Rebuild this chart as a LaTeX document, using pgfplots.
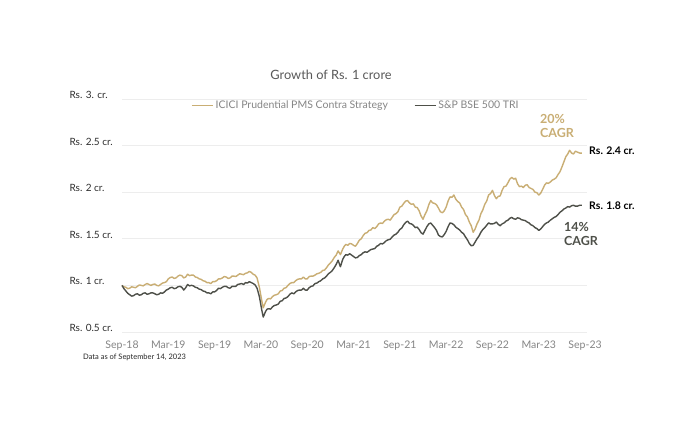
\documentclass[border=0pt]{standalone}
\usepackage{fontspec}
\setmainfont{Lato}
\usepackage{pgfplots}
\pgfplotsset{compat=1.18}
\definecolor{goldc}{HTML}{C9AE74}
\definecolor{darkc}{HTML}{4E5049}
\definecolor{tickc}{HTML}{858585}
\definecolor{labc}{HTML}{2E2E2E}
\begin{document}
\begin{tikzpicture}[x=1pt,y=1pt]
\path[use as bounding box, fill=white] (0,0) rectangle (700,420);
\begin{axis}[
  at={(122pt,88pt)}, anchor=south west,
  width=465pt, height=233pt, scale only axis,
  xmin=0, xmax=60.25, ymin=0.5, ymax=3,
  clip=false,
  axis line style={draw=none},
  major tick length=0pt,
  ytick={0.5,1,1.5,2,2.5,3},
  yticklabels={Rs. 0.5 cr., Rs. 1 cr., Rs. 1.5 cr., Rs. 2 cr., Rs. 2.5 cr., Rs. 3. cr.},
  yticklabel style={anchor=west, xshift=-56pt, yshift=4pt, text=labc, font=\fontsize{10}{11}\selectfont},
  xtick={0,6,12,18,24,30,36,42,48,54,60},
  xticklabels={Sep-18,Mar-19,Sep-19,Mar-20,Sep-20,Mar-21,Sep-21,Mar-22,Sep-22,Mar-23,Sep-23},
  xticklabel style={text=tickc, font=\fontsize{10.5}{11}\selectfont, yshift=-5pt},
  ymajorgrids, grid style={draw=black!7, line width=0.8pt},
  legend style={at={(0.503,0.972)}, anchor=center, draw=none, fill=none,
    font=\fontsize{10.5}{11}\selectfont, text=tickc, inner sep=0pt,
    /tikz/every even column/.append style={column sep=24pt}},
  legend columns=2,
  legend image code/.code={\draw[#1, line width=1.5pt] (0pt,0pt) -- (21pt,0pt);},
]
\addplot[goldc, line width=1.4pt, line join=round] coordinates {
(0,1.00)(0.25,0.985)(0.5,0.98)(0.75,0.965)(1,0.97)(1.25,0.985)(1.5,0.98)(1.75,0.975)(2,0.99)(2.25,1.005)
(2.5,1.00)(2.75,0.995)(3,1.01)(3.25,1.02)(3.5,1.01)(3.75,1.00)(4,1.01)(4.25,1.015)(4.5,1.00)(4.75,0.995)
(5,1.01)(5.25,1.025)(5.5,1.03)(5.75,1.04)(6,1.07)(6.25,1.085)(6.5,1.09)(6.75,1.075)(7,1.08)(7.25,1.10)
(7.5,1.11)(7.75,1.105)(8,1.08)(8.25,1.09)(8.5,1.12)(8.75,1.105)(9,1.11)(9.25,1.11)(9.5,1.09)(9.75,1.085)
(10,1.07)(10.25,1.065)(10.5,1.05)(10.75,1.045)(11,1.03)(11.25,1.03)(11.5,1.02)(11.75,1.04)(12,1.04)(12.25,1.05)
(12.5,1.07)(12.75,1.07)(13,1.08)(13.25,1.095)(13.5,1.09)(13.75,1.075)(14,1.08)(14.25,1.10)(14.5,1.10)(14.75,1.095)
(15,1.11)(15.25,1.125)(15.5,1.12)(15.75,1.115)(16,1.13)(16.25,1.135)(16.5,1.15)(16.75,1.14)(17,1.12)(17.25,1.11)
(17.5,1.08)(17.8,0.98)(18.1,0.84)(18.3,0.76)(18.6,0.82)(18.8,0.85)(19,0.86)(19.25,0.855)(19.5,0.88)(19.75,0.895)
(20,0.90)(20.25,0.91)(20.5,0.94)(20.75,0.945)(21,0.97)(21.25,0.975)(21.5,1.00)(21.75,1.02)(22,1.03)(22.25,1.03)
(22.5,1.05)(22.75,1.065)(23,1.07)(23.25,1.07)(23.5,1.09)(23.75,1.07)(24,1.07)(24.25,1.095)(24.5,1.10)(24.75,1.10)
(25,1.11)(25.25,1.125)(25.5,1.13)(25.75,1.14)(26,1.16)(26.25,1.165)(26.5,1.19)(26.75,1.22)(27,1.24)(27.25,1.265)
(27.5,1.30)(27.75,1.325)(28,1.37)(28.3,1.33)(28.6,1.39)(28.8,1.42)(29,1.44)(29.25,1.43)(29.5,1.45)(29.75,1.445)
(30,1.43)(30.25,1.42)(30.5,1.45)(30.75,1.485)(31,1.50)(31.25,1.535)(31.5,1.56)(31.75,1.565)(32,1.59)(32.25,1.595)
(32.5,1.62)(32.75,1.61)(33,1.63)(33.25,1.66)(33.5,1.67)(33.75,1.665)(34,1.69)(34.25,1.705)(34.5,1.71)(34.75,1.70)
(35,1.73)(35.25,1.76)(35.5,1.77)(35.75,1.79)(36,1.84)(36.25,1.85)(36.5,1.88)(36.75,1.905)(37,1.91)(37.25,1.885)
(37.5,1.87)(37.75,1.875)(38,1.84)(38.25,1.835)(38.5,1.80)(38.75,1.745)(39,1.71)(39.25,1.76)(39.5,1.80)(39.75,1.865)
(40,1.91)(40.25,1.885)(40.5,1.88)(40.75,1.865)(41,1.83)(41.25,1.79)(41.5,1.78)(41.75,1.80)(42,1.84)(42.25,1.905)
(42.5,1.95)(42.75,1.945)(43,1.97)(43.25,1.925)(43.5,1.90)(43.75,1.885)(44,1.84)(44.25,1.815)(44.5,1.76)(44.75,1.735)
(45,1.68)(45.25,1.64)(45.5,1.57)(45.75,1.605)(46,1.66)(46.25,1.70)(46.5,1.77)(46.75,1.81)(47,1.87)(47.25,1.905)
(47.5,1.97)(47.75,1.985)(48,2.02)(48.25,1.965)(48.5,1.93)(48.75,1.955)(49,1.96)(49.25,2.02)(49.5,2.06)(49.75,2.065)
(50,2.10)(50.25,2.14)(50.5,2.16)(50.75,2.14)(51,2.15)(51.25,2.09)(51.5,2.06)(51.75,2.065)(52,2.05)(52.25,2.075)
(52.5,2.08)(52.75,2.05)(53,2.04)(53.25,2.03)(53.5,2.00)(53.75,1.995)(54,1.97)(54.25,1.99)(54.5,2.03)(54.75,2.075)
(55,2.10)(55.25,2.095)(55.5,2.11)(55.75,2.13)(56,2.14)(56.25,2.155)(56.5,2.19)(56.75,2.22)(57,2.27)(57.25,2.325)
(57.5,2.38)(57.75,2.41)(58,2.45)(58.25,2.42)(58.5,2.41)(58.75,2.44)(59,2.43)(59.3,2.42)(59.6,2.42)
};
\addlegendentry{ICICI Prudential PMS Contra Strategy}
\addplot[darkc, line width=1.4pt, line join=round] coordinates {
(0,1.00)(0.25,0.965)(0.5,0.94)(0.75,0.915)(1,0.90)(1.25,0.885)(1.5,0.89)(1.75,0.905)(2,0.91)(2.25,0.895)
(2.5,0.90)(2.75,0.915)(3,0.92)(3.25,0.905)(3.5,0.91)(3.75,0.92)(4,0.92)(4.25,0.91)(4.5,0.90)(4.75,0.905)
(5,0.92)(5.25,0.915)(5.5,0.93)(5.75,0.95)(6,0.96)(6.25,0.975)(6.5,0.98)(6.75,0.965)(7,0.97)(7.25,0.985)
(7.5,0.99)(7.75,0.98)(8,0.95)(8.25,0.975)(8.5,1.01)(8.75,0.995)(9,1.00)(9.25,0.995)(9.5,0.98)(9.75,0.975)
(10,0.96)(10.25,0.955)(10.5,0.94)(10.75,0.935)(11,0.92)(11.25,0.92)(11.5,0.91)(11.75,0.93)(12,0.93)(12.25,0.945)
(12.5,0.97)(12.75,0.965)(13,0.98)(13.25,0.99)(13.5,0.99)(13.75,0.975)(14,0.97)(14.25,0.99)(14.5,0.99)(14.75,0.99)
(15,1.01)(15.25,1.015)(15.5,1.02)(15.75,1.01)(16,1.03)(16.25,1.025)(16.5,1.04)(16.75,1.03)(17,1.02)(17.25,1.005)
(17.5,0.97)(17.8,0.88)(18.1,0.74)(18.3,0.66)(18.6,0.72)(18.8,0.745)(19,0.75)(19.25,0.745)(19.5,0.77)(19.75,0.785)
(20,0.79)(20.25,0.80)(20.5,0.83)(20.75,0.835)(21,0.86)(21.25,0.865)(21.5,0.88)(21.75,0.905)(22,0.92)(22.25,0.91)
(22.5,0.93)(22.75,0.945)(23,0.95)(23.25,0.95)(23.5,0.97)(23.75,0.95)(24,0.95)(24.25,0.975)(24.5,0.99)(24.75,0.995)
(25,1.02)(25.25,1.025)(25.5,1.04)(25.75,1.05)(26,1.07)(26.25,1.08)(26.5,1.10)(26.75,1.125)(27,1.14)(27.25,1.16)
(27.5,1.19)(27.75,1.225)(28,1.27)(28.3,1.20)(28.6,1.28)(28.8,1.31)(29,1.33)(29.25,1.325)(29.5,1.34)(29.75,1.325)
(30,1.31)(30.25,1.295)(30.5,1.30)(30.75,1.32)(31,1.33)(31.25,1.35)(31.5,1.36)(31.75,1.355)(32,1.37)(32.25,1.385)
(32.5,1.39)(32.75,1.395)(33,1.42)(33.25,1.43)(33.5,1.45)(33.75,1.445)(34,1.46)(34.25,1.48)(34.5,1.49)(34.75,1.495)
(35,1.52)(35.25,1.54)(35.5,1.55)(35.75,1.57)(36,1.60)(36.25,1.615)(36.5,1.65)(36.75,1.675)(37,1.69)(37.25,1.665)
(37.5,1.66)(37.75,1.645)(38,1.62)(38.25,1.625)(38.5,1.60)(38.75,1.565)(39,1.55)(39.25,1.59)(39.5,1.63)(39.75,1.66)
(40,1.67)(40.25,1.645)(40.5,1.62)(40.75,1.59)(41,1.54)(41.25,1.525)(41.5,1.52)(41.75,1.545)(42,1.58)(42.25,1.63)
(42.5,1.67)(42.75,1.665)(43,1.65)(43.25,1.625)(43.5,1.61)(43.75,1.595)(44,1.57)(44.25,1.555)(44.5,1.52)(44.75,1.49)
(45,1.45)(45.25,1.425)(45.5,1.43)(45.75,1.465)(46,1.50)(46.25,1.53)(46.5,1.57)(46.75,1.60)(47,1.62)(47.25,1.645)
(47.5,1.67)(47.75,1.66)(48,1.66)(48.25,1.665)(48.5,1.68)(48.75,1.655)(49,1.64)(49.25,1.66)(49.5,1.67)(49.75,1.69)
(50,1.70)(50.25,1.72)(50.5,1.73)(50.75,1.715)(51,1.71)(51.25,1.725)(51.5,1.72)(51.75,1.705)(52,1.70)(52.25,1.695)
(52.5,1.68)(52.75,1.67)(53,1.65)(53.25,1.64)(53.5,1.62)(53.75,1.61)(54,1.59)(54.25,1.605)(54.5,1.63)(54.75,1.655)
(55,1.67)(55.25,1.68)(55.5,1.70)(55.75,1.715)(56,1.73)(56.25,1.74)(56.5,1.76)(56.75,1.785)(57,1.80)(57.25,1.82)
(57.5,1.83)(57.75,1.845)(58,1.84)(58.25,1.855)(58.5,1.86)(58.75,1.85)(59,1.85)(59.3,1.86)(59.6,1.86)
};
\addlegendentry{S\&P BSE 500 TRI}
\end{axis}
\node[anchor=center, text=black!65, font=\fontsize{12.8}{14}\selectfont] at (331,345) {Growth of Rs. 1 crore};
\node[anchor=west, inner sep=0pt, font=\bfseries\fontsize{10.5}{11}\selectfont] at (589,269) {Rs. 2.4 cr.};
\node[anchor=west, inner sep=0pt, font=\bfseries\fontsize{10.5}{11}\selectfont] at (589,214) {Rs. 1.8 cr.};
\node[anchor=north west, inner sep=0pt, align=left, text=goldc, font=\bfseries\fontsize{12.5}{14}\selectfont] at (540,306) {20\%\\CAGR};
\node[anchor=north west, inner sep=0pt, align=left, text=darkc, font=\bfseries\fontsize{12.5}{14}\selectfont] at (564,198) {14\%\\CAGR};
\node[anchor=west, inner sep=0pt, text=black!85, font=\fontsize{7.5}{8}\selectfont] at (83,63) {Data as of September 14, 2023};
\end{tikzpicture}
\end{document}
